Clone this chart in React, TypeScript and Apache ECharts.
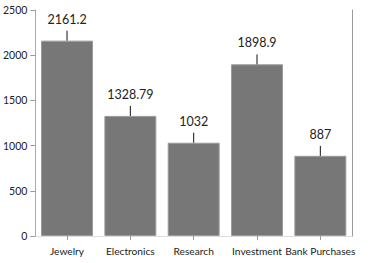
import React, { useEffect, useRef } from "react";
import * as echarts from "echarts";

const categories = ["Jewelry", "Electronics", "Research", "Investment", "Bank Purchases"];
const values = [2161.2, 1328.79, 1032, 1898.9, 887];
const errors = [110, 110, 110, 110, 110];
const yTicks = [0, 500, 1000, 1500, 2000, 2500];

export default function App() {
  const ref = useRef<HTMLDivElement>(null);
  useEffect(() => {
    const chart = echarts.init(ref.current!, null, { renderer: "svg" });
    const font = "Lato, 'Noto Sans', sans-serif";
    chart.setOption({
      animation: false,
      grid: { left: 34, right: 18, top: 10, bottom: 27, containLabel: false },
      xAxis: [
        {
          type: "category",
          data: categories,
          axisLine: { lineStyle: { color: "#aaaaaa", width: 1 } },
          axisTick: { show: true, alignWithLabel: true, length: 4, lineStyle: { color: "#999999" } },
          axisLabel: { color: "#222222", fontSize: 10.2, fontFamily: font, margin: 10, interval: 0 },
        },
        {
          type: "category",
          position: "top",
          data: categories,
          axisLine: { lineStyle: { color: "#dddddd", width: 1 } },
          axisTick: { show: false },
          axisLabel: { show: false },
        },
      ],
      yAxis: [
        {
          type: "value",
          min: yTicks[0],
          max: yTicks[yTicks.length - 1],
          interval: 500,
          axisLine: { show: true, lineStyle: { color: "#aaaaaa", width: 1 } },
          axisTick: { show: true, length: 5, lineStyle: { color: "#999999" } },
          axisLabel: {
            color: "#222222",
            fontSize: 10.5,
            fontFamily: font,
            margin: 8,
            formatter: (v: number) => String(v),
          },
          splitLine: { show: false },
        },
        {
          type: "value",
          position: "right",
          min: yTicks[0],
          max: yTicks[yTicks.length - 1],
          interval: 500,
          axisLine: { show: true, lineStyle: { color: "#999999", width: 1 } },
          axisTick: { show: false },
          axisLabel: { show: false },
          splitLine: { show: false },
        },
      ],
      series: [
        {
          type: "bar",
          data: values,
          barWidth: "82%",
          itemStyle: { color: "#777777", borderColor: "#9a9a9a", borderWidth: 1 },
        },
        {
          type: "custom",
          data: values.map((v, i) => [i, v, errors[i]]),
          renderItem: (params: any, api: any) => {
            const i = api.value(0);
            const v = api.value(1);
            const e = api.value(2);
            const p0 = api.coord([i, v]);
            const p1 = api.coord([i, v + e]);
            return {
              type: "group",
              children: [
                {
                  type: "line",
                  shape: { x1: p0[0], y1: p0[1], x2: p1[0], y2: p1[1] },
                  style: { stroke: "#111111", lineWidth: 1 },
                },
                {
                  type: "text",
                  x: p1[0],
                  y: p1[1] - 5,
                  style: {
                    text: String(values[i]),
                    fill: "#222222",
                    font: `12.5px ${font}`,
                    textAlign: "center",
                    textVerticalAlign: "bottom",
                  },
                },
              ],
            };
          },
          z: 5,
        },
      ],
    });
    return () => chart.dispose();
  }, []);
  return <div ref={ref} style={{ position: "absolute", left: 0, top: 0, width: 370, height: 263 }} />;
}
